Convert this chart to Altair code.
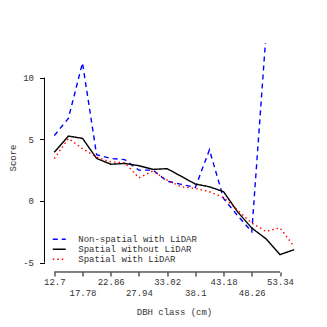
import altair as alt
import pandas as pd

dbh = [12.7, 15.24, 17.78, 20.32, 22.86, 25.4, 27.94, 30.48, 33.02, 35.56,
       38.1, 40.64, 43.18, 45.72, 48.26, 50.8, 53.34, 55.88]
nonspatial_lidar = [5.3, 6.7, 11.2, 3.75, 3.45, 3.35, 2.5, 2.5, 1.6, 1.35,
                    1.1, 4.15, 0.2, -1.2, -2.5, 13.4]
spatial_no_lidar = [3.95, 5.26, 5.08, 3.45, 2.98, 3.04, 2.86, 2.56, 2.62, 2.0,
                    1.37, 1.15, 0.75, -0.89, -2.2, -3.06, -4.35, -3.95]
spatial_lidar = [3.44, 5.06, 4.25, 3.55, 3.17, 3.1, 1.88, 2.43, 1.69, 1.15,
                 1.02, 0.75, 0.27, -0.75, -1.8, -2.47, -2.18, -3.69]

series_names = ["Non-spatial with LiDAR", "Spatial without LiDAR", "Spatial with LiDAR"]
series_vals = [nonspatial_lidar, spatial_no_lidar, spatial_lidar]
x_ticks = [12.7, 17.78, 22.86, 27.94, 33.02, 38.1, 43.18, 48.26, 53.34]
y_ticks = [-5, 0, 5, 10]

rows = []
for name, vals in zip(series_names, series_vals):
    for i, v in enumerate(vals):
        rows.append({"dbh": dbh[i], "score": v, "model": name})
df = pd.DataFrame(rows)

W, H = 259.4, 229
FONT = "Liberation Mono"
xscale = alt.Scale(domain=[10.94, 57.64], nice=False, zero=False)
yscale = alt.Scale(domain=[-5.76, 12.81], nice=False, zero=False)

legend_kw = dict(title=None, orient="none", legendX=9.75, legendY=191.3,
                 symbolType="M-1.53,0H1.53", symbolSize=72, symbolStrokeWidth=1.4,
                 labelFont=FONT, labelFontSize=9, labelColor="#333",
                 labelOffset=14, rowPadding=0, padding=0)

odd_test = "round((datum.value - 12.7) / 5.08) % 2 == 1"

xaxis = alt.Axis(values=x_ticks, domain=False, grid=False, tickSize=4,
                 tickColor="#000", labelFont=FONT, labelFontSize=9,
                 labelColor="#333",
                 labelPadding={"condition": {"test": odd_test, "value": 12.6}, "value": 2},
                 labelExpr="'' + datum.value",
                 labelOverlap=False, labelFlush=False, labelBound=False,
                 title="DBH class (cm)", titleFont=FONT, titleFontSize=9,
                 titleFontWeight="normal", titleColor="#333",
                 titleX=129.5, titleY=40, titleBaseline="middle")
yaxis = alt.Axis(values=y_ticks, domain=False, grid=False, tickSize=5,
                 tickColor="#000", labelFont=FONT, labelFontSize=9,
                 labelColor="#333", labelPadding=6, labelOverlap=False,
                 labelExpr="'' + datum.value",
                 title="Score", titleFont=FONT, titleFontSize=9,
                 titleFontWeight="normal", titleColor="#333",
                 titleX=-32, titleY=H / 2, titleAngle=-90,
                 titleAlign="center", titleBaseline="middle")

lines = alt.Chart(df).mark_line(clip=True, strokeWidth=1.4).encode(
    x=alt.X("dbh:Q", scale=xscale, axis=xaxis),
    y=alt.Y("score:Q", scale=yscale, axis=yaxis),
    color=alt.Color("model:N",
                    scale=alt.Scale(domain=series_names, range=["#0000ff", "#000000", "#ff0000"]),
                    legend=alt.Legend(**legend_kw)),
    strokeDash=alt.StrokeDash("model:N",
                              scale=alt.Scale(domain=series_names, range=[[5, 4], [1, 0], [1.5, 3]]),
                              legend=alt.Legend(**legend_kw)),
)

xaxis_df = pd.DataFrame({"dbh": [x_ticks[0]], "dbh2": [x_ticks[-1]]})
xaxis_line = alt.Chart(xaxis_df).mark_rule(color="#000", strokeWidth=1).encode(
    x=alt.X("dbh:Q", scale=xscale, axis=xaxis), x2="dbh2:Q", y=alt.value(H))

yaxis_df = pd.DataFrame({"score": [y_ticks[0]], "score2": [y_ticks[-1]]})
yaxis_line = alt.Chart(yaxis_df).mark_rule(color="#000", strokeWidth=1).encode(
    y=alt.Y("score:Q", scale=yscale, axis=yaxis), y2="score2:Q", x=alt.value(0))

chart = alt.layer(lines, xaxis_line, yaxis_line).properties(
    width=W, height=H,
    autosize=alt.AutoSizeParams(type="none"),
    padding={"left": 36.5, "top": 35, "right": 10, "bottom": 50},
).configure(
    background="white",
    view=alt.ViewConfig(stroke=None),
    axis=alt.AxisConfig(labelOverlap=False),
)

chart.save("out.html", embed_options={"renderer": "svg", "actions": False})
